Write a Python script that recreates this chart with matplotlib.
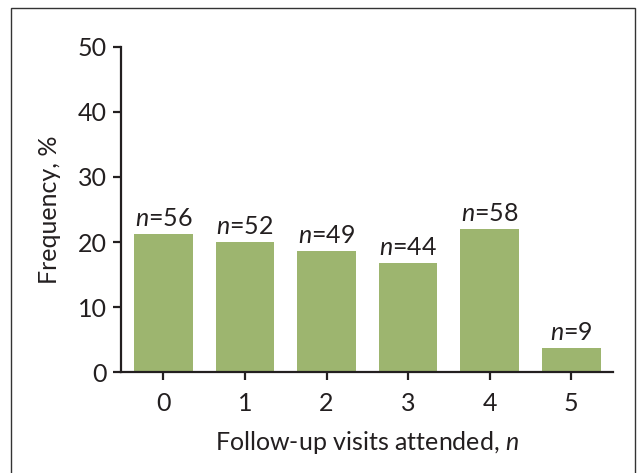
import matplotlib.pyplot as plt
from matplotlib.patches import Rectangle

visits = [0, 1, 2, 3, 4, 5]
freq = [21.2, 20.0, 18.6, 16.8, 22.0, 3.7]
counts = [56, 52, 49, 44, 58, 9]

plt.rcParams['font.family'] = ['Lato', 'DejaVu Sans']
plt.rcParams['mathtext.fontset'] = 'custom'
plt.rcParams['mathtext.rm'] = 'Lato'
plt.rcParams['mathtext.it'] = 'Lato:italic'

fig = plt.figure(figsize=(6.37, 4.73), dpi=100)
ax = fig.add_axes([0.19, 0.213, 0.772, 0.688])

# outer frame
fig.patches.append(Rectangle((0.017, -0.1), 0.98, 1.083, transform=fig.transFigure,
                             fill=False, edgecolor='#333333', linewidth=1.0))

fs = 18
bars = ax.bar(visits, freq, width=0.72, color='#9db56f')
for x, y, c in zip(visits, freq, counts):
    ax.annotate(f'$n$={c}', (x, y), xytext=(0, 3), textcoords='offset points',
                ha='center', va='bottom', fontsize=fs, color='#231f20')

ax.set_xlim(-0.52, 5.51)
ax.set_ylim(0, 50)
ax.set_yticks([0, 10, 20, 30, 40, 50])
ax.set_xticks(visits)
ax.spines['top'].set_visible(False)
ax.spines['right'].set_visible(False)
for s in ['left', 'bottom']:
    ax.spines[s].set_linewidth(1.6)
    ax.spines[s].set_color('#231f20')
ax.tick_params(width=1.6, length=6, labelsize=fs, colors='#231f20', pad=4)
ax.tick_params(axis='x', pad=8)
ax.set_ylabel('Frequency, %', fontsize=fs, color='#231f20', labelpad=12)
ax.set_xlabel('Follow-up visits attended, $n$', fontsize=fs, color='#231f20', labelpad=10)

plt.savefig('out.png', dpi=100)
